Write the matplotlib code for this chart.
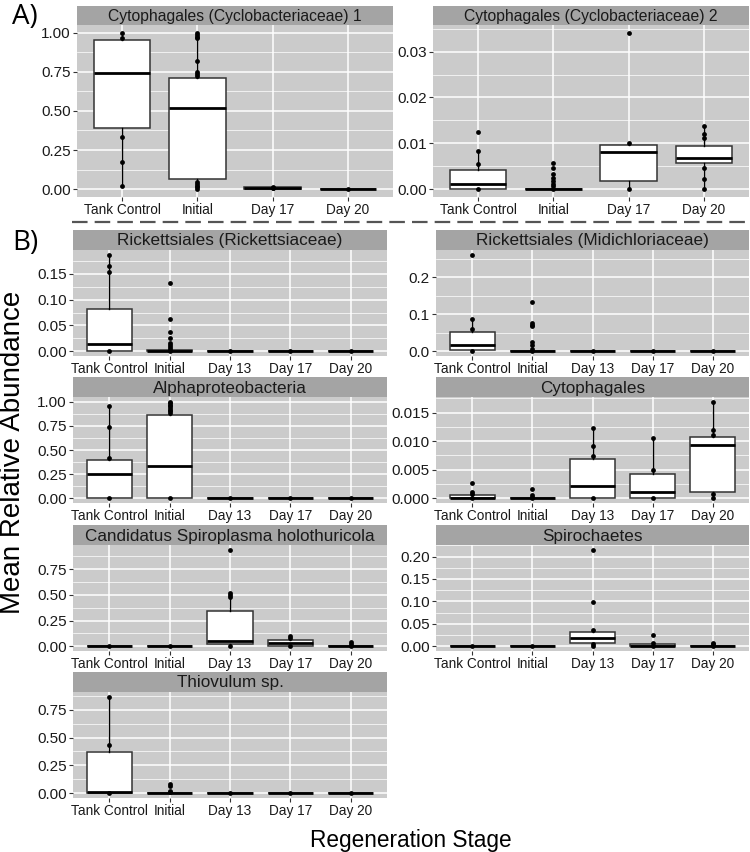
import matplotlib
matplotlib.use("Agg")
import matplotlib.pyplot as plt
from matplotlib.lines import Line2D
from matplotlib.ticker import MultipleLocator, FormatStrFormatter

plt.rcParams['font.family'] = ['Liberation Sans', 'DejaVu Sans']

cats_A = ["Tank Control", "Initial", "Day 17", "Day 20"]
cats_B = ["Tank Control", "Initial", "Day 13", "Day 17", "Day 20"]

# ---------------- Panel A ----------------
a1_title = "Cytophagales (Cyclobacteriaceae) 1"
a1_q1 = [0.389, 0.064, 0.004, 0.000]
a1_med = [0.743, 0.520, 0.008, 0.001]
a1_q3 = [0.955, 0.711, 0.012, 0.002]
a1_lo = [0.021, 0.002, 0.003, 0.000]
a1_hi = [0.998, 0.996, 0.014, 0.002]
a1_pts = [[0.998, 0.962, 0.33, 0.172, 0.021],
          [0.996, 0.983, 0.972, 0.962, 0.815, 0.75, 0.735, 0.72,
           0.049, 0.034, 0.023, 0.013, 0.002],
          [0.012, 0.009, 0.006],
          [0.001]]

a2_title = "Cytophagales (Cyclobacteriaceae) 2"
a2_q1 = [0.0, 0.0, 0.0018, 0.0058]
a2_med = [0.0012, 0.0, 0.0081, 0.0067]
a2_q3 = [0.0041, 0.0, 0.0097, 0.0095]
a2_lo = [0.0, 0.0, 0.0, 0.0]
a2_hi = [0.0084, 0.0, 0.0101, 0.0138]
a2_pts = [[0.0124, 0.0084, 0.0056, 0.0],
          [0.0058, 0.0046, 0.0034, 0.0025, 0.0018, 0.0011, 0.0006, 0.0],
          [0.0341, 0.0101, 0.0],
          [0.0138, 0.012, 0.0111, 0.0046, 0.0023, 0.0]]

# ---------------- Panel B ----------------
b1_title = "Rickettsiales (Rickettsiaceae)"
b1_q1 = [0.0, 0.0, 0.0, 0.0, 0.0]
b1_med = [0.0143, 0.001, 0.0, 0.0, 0.0]
b1_q3 = [0.0815, 0.003, 0.0, 0.0, 0.0]
b1_lo = [0.0, 0.0, 0.0, 0.0, 0.0]
b1_hi = [0.187, 0.005, 0.0, 0.0, 0.0]
b1_pts = [[0.187, 0.166, 0.1545, 0.0],
          [0.132, 0.063, 0.0365, 0.026, 0.016, 0.012, 0.008, 0.005, 0.0],
          [0.0], [0.0], [0.0]]

b2_title = "Rickettsiales (Midichloriaceae)"
b2_q1 = [0.002, 0.0, 0.0, 0.0, 0.0]
b2_med = [0.018, 0.0, 0.0, 0.0, 0.0]
b2_q3 = [0.051, 0.0, 0.0, 0.0, 0.0]
b2_lo = [0.0, 0.0, 0.0, 0.0, 0.0]
b2_hi = [0.087, 0.0, 0.0, 0.0, 0.0]
b2_pts = [[0.261, 0.087, 0.059, 0.0],
          [0.133, 0.076, 0.07, 0.067, 0.026, 0.018, 0.007, 0.0],
          [0.0], [0.0], [0.0]]

b3_title = "Alphaproteobacteria"
b3_q1 = [0.0, 0.0, 0.0, 0.0, 0.0]
b3_med = [0.246, 0.335, 0.0, 0.0, 0.0]
b3_q3 = [0.394, 0.863, 0.0, 0.0, 0.0]
b3_lo = [0.0, 0.0, 0.0, 0.0, 0.0]
b3_hi = [0.958, 1.0, 0.0, 0.0, 0.0]
b3_pts = [[0.958, 0.736, 0.412, 0.0],
          [1.0, 0.985, 0.97, 0.955, 0.94, 0.92, 0.9, 0.88, 0.0],
          [0.0], [0.0], [0.0]]

b4_title = "Cytophagales"
b4_q1 = [0.0, 0.0, 0.0, 0.0, 0.0011]
b4_med = [0.0001, 0.0, 0.0022, 0.0011, 0.0093]
b4_q3 = [0.0005, 0.0, 0.00685, 0.0042, 0.0107]
b4_lo = [0.0, 0.0, 0.0, 0.0, 0.0]
b4_hi = [0.001, 0.0, 0.0123, 0.0105, 0.0169]
b4_pts = [[0.0026, 0.001, 0.0007, 0.0],
          [0.0016, 0.0005, 0.0002, 0.0],
          [0.0123, 0.0092, 0.0074, 0.0],
          [0.0105, 0.0049, 0.0],
          [0.0169, 0.012, 0.011, 0.0008, 0.0]]

b5_title = "Candidatus Spiroplasma holothuricola"
b5_q1 = [0.0, 0.0, 0.02, 0.003, 0.0]
b5_med = [0.0, 0.0, 0.046, 0.033, 0.002]
b5_q3 = [0.001, 0.002, 0.344, 0.06, 0.005]
b5_lo = [0.0, 0.0, 0.0, 0.0, 0.0]
b5_hi = [0.001, 0.002, 0.523, 0.096, 0.005]
b5_pts = [[0.001], [0.002],
          [0.94, 0.523, 0.50, 0.483, 0.0],
          [0.096, 0.076, 0.0],
          [0.043, 0.026, 0.0]]

b6_title = "Spirochaetes"
b6_q1 = [0.0, 0.0, 0.007, 0.0, 0.0]
b6_med = [0.0, 0.0, 0.018, 0.0005, 0.0]
b6_q3 = [0.0, 0.0, 0.032, 0.0045, 0.0]
b6_lo = [0.0, 0.0, 0.0, 0.0, 0.0]
b6_hi = [0.0, 0.0, 0.035, 0.0076, 0.0]
b6_pts = [[0.0], [0.0],
          [0.215, 0.0985, 0.035, 0.005, 0.0],
          [0.025, 0.0076, 0.0],
          [0.0076, 0.0045, 0.0]]

b7_title = "Thiovulum sp."
b7_q1 = [0.0, 0.0, 0.0, 0.0, 0.0]
b7_med = [0.012, 0.001, 0.0, 0.0, 0.0]
b7_q3 = [0.371, 0.003, 0.0, 0.0, 0.0]
b7_lo = [0.0, 0.0, 0.0, 0.0, 0.0]
b7_hi = [0.866, 0.003, 0.0, 0.0, 0.0]
b7_pts = [[0.866, 0.435, 0.0],
          [0.085, 0.061, 0.024, 0.012],
          [0.0], [0.0], [0.0]]

W, H = 750, 852
fig = plt.figure(figsize=(W / 100, H / 100), dpi=100)

PANEL_BG = '#CBCBCB'
STRIP_BG = '#A4A4A4'


def px_rect(x0, y0, x1, y1):
    return [x0 / W, 1 - y1 / H, (x1 - x0) / W, (y1 - y0) / H]


def panel(x0, x1, strip_top, plot_bottom, title, cats, q1, med, q3, lo, hi,
          pts, step, fmt, strip_h=20, strip_fs=12.3):
    # strip
    sax = fig.add_axes(px_rect(x0, strip_top, x1, strip_top + strip_h))
    sax.set_facecolor(STRIP_BG)
    sax.set_xticks([])
    sax.set_yticks([])
    for s in sax.spines.values():
        s.set_visible(False)
    sax.text(0.5, 0.45, title, ha='center', va='center', fontsize=strip_fs,
             color='#1A1A1A', transform=sax.transAxes)

    ax = fig.add_axes(px_rect(x0, strip_top + strip_h, x1, plot_bottom))
    ax.set_facecolor(PANEL_BG)
    n = len(cats)
    pos = list(range(1, n + 1))
    stats = []
    for i in range(n):
        stats.append(dict(q1=q1[i], med=med[i], q3=q3[i], whislo=lo[i],
                          whishi=hi[i], fliers=[]))
    ax.bxp(stats, positions=pos, widths=0.75, showfliers=False,
           showcaps=False, patch_artist=True,
           boxprops=dict(facecolor='white', edgecolor='#333333', linewidth=1.1),
           medianprops=dict(color='black', linewidth=2.0, solid_capstyle='butt'),
           whiskerprops=dict(color='black', linewidth=1.0),
           zorder=3)
    for i in range(n):
        ax.scatter([pos[i]] * len(pts[i]), pts[i], s=12, color='black',
                   zorder=5, linewidths=0)
    ymax = max(max(p) for p in pts)
    ymax = max(ymax, max(hi))
    pad = 0.05 * ymax
    ax.set_ylim(-pad, ymax + pad)
    ax.set_xlim(0.4, n + 0.6)
    ax.set_xticks(pos)
    ax.set_xticklabels(cats)
    ax.yaxis.set_major_locator(MultipleLocator(step))
    ax.yaxis.set_minor_locator(MultipleLocator(step / 2))
    ax.yaxis.set_major_formatter(FormatStrFormatter(fmt))
    ax.grid(True, which='major', color='white', linewidth=1.1, zorder=0)
    ax.grid(True, which='minor', axis='y', color='white', linewidth=0.5,
            zorder=0)
    ax.set_axisbelow(True)
    ax.tick_params(which='major', length=3, width=0.8, color='#333333',
                   labelcolor='#1A1A1A', pad=1.5)
    ax.tick_params(axis='x', labelsize=9.8)
    ax.tick_params(axis='y', labelsize=11)
    ax.tick_params(which='minor', length=0)
    for s in ax.spines.values():
        s.set_visible(False)
    return ax


# Panel A
panel(77, 393, 6, 197, a1_title, cats_A, a1_q1, a1_med, a1_q3, a1_lo, a1_hi,
      a1_pts, 0.25, '%.2f', strip_h=19, strip_fs=11.3)
panel(433, 749, 6, 197, a2_title, cats_A, a2_q1, a2_med, a2_q3, a2_lo, a2_hi,
      a2_pts, 0.01, '%.2f', strip_h=19, strip_fs=11.3)

# Panel B
LX0, LX1 = 73, 387
RX0, RX1 = 436, 749
rows = [230, 377, 525, 672]
RH = 126
panel(LX0, LX1, rows[0], rows[0] + RH, b1_title, cats_B, b1_q1, b1_med, b1_q3,
      b1_lo, b1_hi, b1_pts, 0.05, '%.2f')
panel(RX0, RX1, rows[0], rows[0] + RH, b2_title, cats_B, b2_q1, b2_med, b2_q3,
      b2_lo, b2_hi, b2_pts, 0.1, '%.1f')
panel(LX0, LX1, rows[1], rows[1] + RH, b3_title, cats_B, b3_q1, b3_med, b3_q3,
      b3_lo, b3_hi, b3_pts, 0.25, '%.2f')
panel(RX0, RX1, rows[1], rows[1] + RH, b4_title, cats_B, b4_q1, b4_med, b4_q3,
      b4_lo, b4_hi, b4_pts, 0.005, '%.3f')
panel(LX0, LX1, rows[2], rows[2] + RH, b5_title, cats_B, b5_q1, b5_med, b5_q3,
      b5_lo, b5_hi, b5_pts, 0.25, '%.2f')
panel(RX0, RX1, rows[2], rows[2] + RH, b6_title, cats_B, b6_q1, b6_med, b6_q3,
      b6_lo, b6_hi, b6_pts, 0.05, '%.2f')
panel(LX0, LX1, rows[3], rows[3] + RH, b7_title, cats_B, b7_q1, b7_med, b7_q3,
      b7_lo, b7_hi, b7_pts, 0.25, '%.2f')

# dashed separator
fig.add_artist(Line2D([72 / W, 748 / W], [1 - 222 / H, 1 - 222 / H],
                      color='#555555', linewidth=1.6,
                      linestyle=(0, (7, 3.2))))

# panel labels
fig.text(12 / W, 1 - 3 / H, "A)", fontsize=20, ha='left', va='top',
         family=['Open Sans', 'DejaVu Sans'])
fig.text(12 / W, 1 - 229 / H, "B)", fontsize=20, ha='left', va='top',
         family=['Open Sans', 'DejaVu Sans'])

# axis labels
fig.text(0.5 / W, 1 - 452 / H, "Mean Relative Abundance", rotation=90,
         ha='left', va='center', fontsize=20, color='black')
fig.text(411 / W, 1 - 840 / H, "Regeneration Stage", ha='center',
         va='center', fontsize=16.3, color='black')

fig.savefig("out.png", dpi=100)
